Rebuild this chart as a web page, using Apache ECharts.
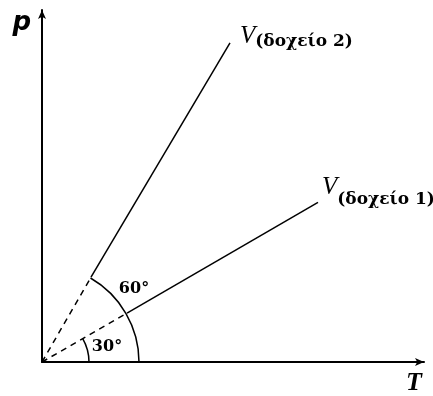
<!DOCTYPE html>
<html>
<head>
<meta charset="utf-8">
<script src="https://cdn.jsdelivr.net/npm/echarts@6/dist/echarts.min.js"></script>
<style>html,body{margin:0;padding:0;background:#fff;}#c{width:433px;height:396px;}</style>
</head>
<body>
<div id="c"></div>
<script>
// Data (units: T along x, p along y)
const vesselNames = ['(δοχείο 1)', '(δοχείο 2)'];
const angleDeg = [30, 60];
// end points of each isochore line
const line1End = [276, 160];
const line2End = [188, 320];
// where the dashed part stops and the solid part starts
const line1Break = [85, 49];
const line2Break = [49, 85];
// angle arcs radii (data units)
const arcRadii = [47, 97];
const angleLabelPos = [[65, 15], [92, 73]];
const angleLabels = ['30°', '60°'];
const axisMax = { T: 382, p: 353 };

const chart = echarts.init(document.getElementById('c'));
const black = '#000';
const serif = '"Liberation Serif","DejaVu Serif",serif';
const boldSerif = '"DejaVu Serif","Liberation Serif",serif';

function richLabel(idx, subLineHeight, offset) {
  return {
    show: true,
    formatter: '{v|V}{s|' + vesselNames[idx] + '}',
    distance: 6,
    offset: offset,
    rich: {
      v: { fontFamily: serif, fontStyle: 'italic', fontSize: 25, lineHeight: 22, color: black, verticalAlign: 'top' },
      s: { fontFamily: boldSerif, fontWeight: 'bold', fontSize: 17, lineHeight: subLineHeight, color: black, verticalAlign: 'bottom' }
    }
  };
}

const option = {
  animation: false,
  grid: { left: 42, right: 9, top: 10, bottom: 33 },
  xAxis: {
    type: 'value', min: 0, max: axisMax.T,
    axisLine: { show: true, symbol: ['none', 'arrow'], symbolSize: [6, 9], lineStyle: { color: black, width: 2 } },
    axisTick: { show: false }, axisLabel: { show: false }, splitLine: { show: false },
    name: 'T', nameLocation: 'end', nameGap: 0,
    nameTextStyle: { fontFamily: serif, fontStyle: 'italic', fontWeight: 'bold', fontSize: 26, color: black, align: 'right', verticalAlign: 'top', padding: [8, 2, 0, 0] }
  },
  yAxis: {
    type: 'value', min: 0, max: axisMax.p,
    axisLine: { show: true, symbol: ['none', 'arrow'], symbolSize: [6, 9], lineStyle: { color: black, width: 2 } },
    axisTick: { show: false }, axisLabel: { show: false }, splitLine: { show: false },
    name: 'p', nameLocation: 'end', nameGap: 0,
    nameTextStyle: { fontFamily: '"DejaVu Sans",sans-serif', fontStyle: 'italic', fontWeight: 'bold', fontSize: 26, color: black, align: 'right', verticalAlign: 'top', padding: [0, 11, 0, 0] }
  },
  series: [
    { type: 'line', data: [[0, 0], line2Break], symbol: 'none', lineStyle: { color: black, width: 1.5, type: [6, 5] } },
    { type: 'line', data: [line2Break, line2End], symbol: 'none', lineStyle: { color: black, width: 1.5 }, endLabel: richLabel(1, 26, [4, -6]) },
    { type: 'line', data: [[0, 0], line1Break], symbol: 'none', lineStyle: { color: black, width: 1.5, type: [6, 5] } },
    { type: 'line', data: [line1Break, line1End], symbol: 'none', lineStyle: { color: black, width: 1.5 }, endLabel: richLabel(0, 33, [-2, -11]) },
    {
      type: 'custom',
      data: arcRadii.map((r, i) => [r, angleDeg[i]]),
      renderItem: function (params, api) {
        const c = api.coord([0, 0]);
        const r = api.size([api.value(0), 0])[0];
        const a = api.value(1) * Math.PI / 180;
        return {
          type: 'arc',
          shape: { cx: c[0], cy: c[1], r: r, startAngle: -a, endAngle: 0, clockwise: true },
          style: { stroke: black, lineWidth: 1.5, fill: null }
        };
      }
    },
    {
      type: 'custom',
      data: angleLabelPos.map((p, i) => [p[0], p[1], i]),
      renderItem: function (params, api) {
        const pt = api.coord([api.value(0), api.value(1)]);
        return {
          type: 'text', x: pt[0], y: pt[1],
          style: { text: angleLabels[api.value(2)], fill: black, font: 'bold 16px ' + boldSerif, align: 'center', verticalAlign: 'middle' }
        };
      }
    }
  ]
};
chart.setOption(option);
</script>
</body>
</html>
